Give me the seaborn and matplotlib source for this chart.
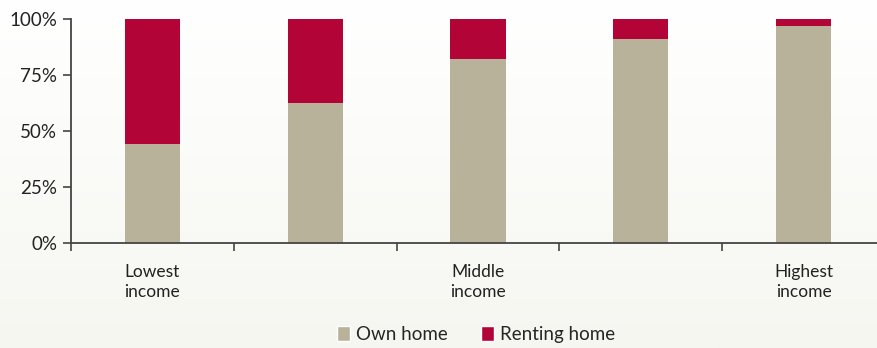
import numpy as np
import pandas as pd
import matplotlib
matplotlib.use("Agg")
import matplotlib.pyplot as plt
import seaborn as sns
from matplotlib.patches import Patch
from matplotlib.colors import LinearSegmentedColormap

categories = ["Q1", "Q2", "Q3", "Q4", "Q5"]
tick_labels = ["Lowest\nincome", "", "Middle\nincome", "", "Highest\nincome"]
own_home = [44, 62.5, 82, 91, 97]
renting_home = [56, 37.5, 18, 9, 3]

own_color = "#b8b29a"
rent_color = "#b20437"

sns.set_theme(style="white")
plt.rcParams["font.family"] = ["Lato", "DejaVu Sans"]

df = pd.DataFrame({"cat": categories, "own": own_home,
                   "total": np.array(own_home) + np.array(renting_home)})

fig = plt.figure(figsize=(8.78, 3.48), dpi=100)
# background gradient
bg = fig.add_axes([0, 0, 1, 1], zorder=-10)
grad = np.linspace(0, 1, 256).reshape(-1, 1)
cmap = LinearSegmentedColormap.from_list("bg", ["#ffffff", "#f6f6f1"])
bg.imshow(grad, aspect="auto", cmap=cmap, extent=[0, 1, 0, 1], origin="upper")
bg.axis("off")

ax = fig.add_axes([71 / 878, 1 - 243 / 348, (885 - 71) / 878, 224 / 348])
ax.patch.set_alpha(0)
sns.barplot(data=df, x="cat", y="total", color=rent_color, saturation=1,
            width=0.34, ax=ax, linewidth=0)
sns.barplot(data=df, x="cat", y="own", color=own_color, saturation=1,
            width=0.34, ax=ax, linewidth=0)

ax.set_xlim(-0.5, 4.5)
ax.set_ylim(0, 100)
ax.set_yticks([0, 25, 50, 75, 100])
ax.set_yticklabels(["0%", "25%", "50%", "75%", "100%"], fontsize=13.5, color="#222222")
ax.set_xticks(range(5))
ax.set_xticklabels(tick_labels, fontsize=12.5, color="#222222", linespacing=1.35)
for lbl in ax.get_xticklabels():
    lbl.set_x(lbl.get_position()[0])
ax.set_xticks(np.arange(-0.5, 4.6, 1), minor=True)
ax.tick_params(axis="x", which="major", length=0, pad=15)
ax.tick_params(axis="x", which="minor", length=6, width=1.2, color="#444444", direction="out", bottom=True)
ax.tick_params(axis="y", length=6, width=1.2, color="#444444", direction="out", left=True, pad=4)
ax.set_xlabel("")
ax.set_ylabel("")
for s in ["top", "right"]:
    ax.spines[s].set_visible(False)
for s in ["left", "bottom"]:
    ax.spines[s].set_color("#444444")
    ax.spines[s].set_linewidth(1.3)

handles = [Patch(facecolor=own_color, label="Own home"),
           Patch(facecolor=rent_color, label="Renting home")]
fig.legend(handles=handles, loc="lower center", bbox_to_anchor=(0.542, -0.035), ncol=2,
           frameon=False, fontsize=13.5, handlelength=0.7, handleheight=0.85,
           handletextpad=0.3, columnspacing=1.8)

fig.savefig("out.png", dpi=100)
